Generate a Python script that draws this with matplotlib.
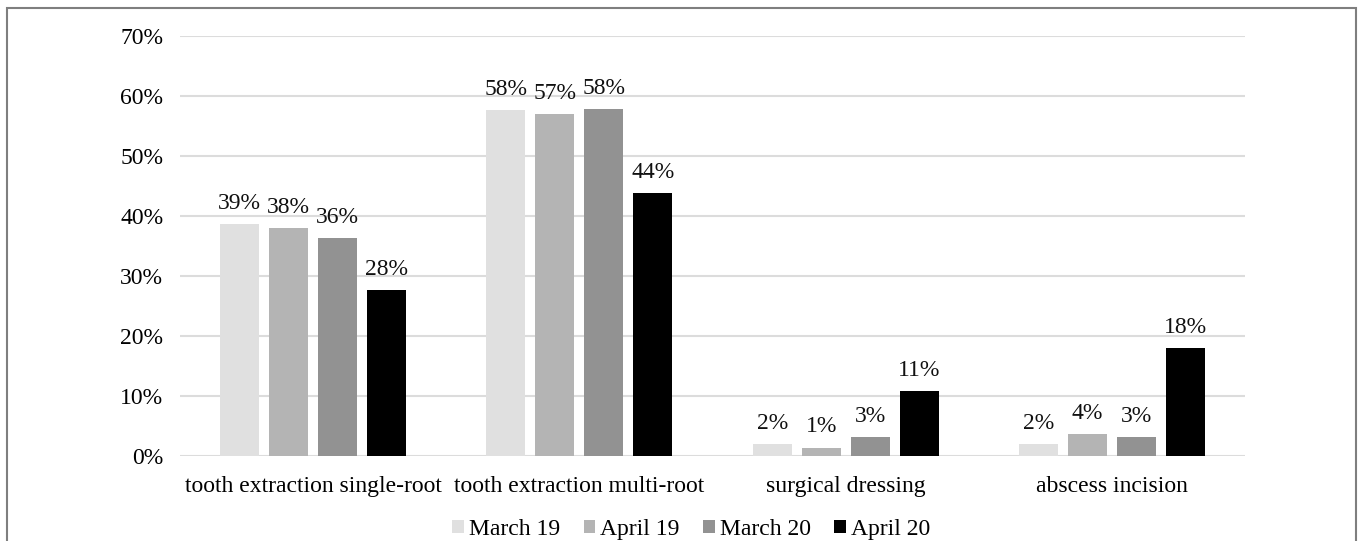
import matplotlib
matplotlib.use("Agg")
import matplotlib.pyplot as plt
import numpy as np
from matplotlib.patches import Rectangle

categories = ["tooth extraction single-root", "tooth extraction multi-root",
              "surgical dressing", "abscess incision"]
series = ["March 19", "April 19", "March 20", "April 20"]
march19 = [38.7, 57.7, 2.0, 2.0]
april19 = [38.0, 57.0, 1.4, 3.7]
march20 = [36.3, 57.8, 3.2, 3.2]
april20 = [27.7, 43.8, 10.8, 18.0]
colors = ["#e0e0e0", "#b4b4b4", "#929292", "#000000"]
yticks = [0, 10, 20, 30, 40, 50, 60, 70]

plt.rcParams['font.family'] = ['Liberation Serif', 'DejaVu Serif']
FS = 17

fig = plt.figure(figsize=(13.6, 5.41), dpi=100)
ax = fig.add_axes([180/1360, 1-456/541, (1245-180)/1360, (456-36)/541])

data = [march19, april19, march20, april20]
x = np.arange(len(categories))
bw = 0.146
step = 0.184
for i, (vals, c, name) in enumerate(zip(data, colors, series)):
    pos = x + (i - 1.5) * step
    bars = ax.bar(pos, vals, width=bw, color=c, label=name, zorder=3)
    for b, v in zip(bars, vals):
        ax.text(b.get_x() + b.get_width()/2, v + 1.7, f"{round(v):.0f}%",
                ha="center", va="bottom", fontsize=FS, color="#111111")

ax.set_xlim(-0.5, len(categories) - 0.5)
ax.set_ylim(0, 70)
ax.set_yticks(yticks)
ax.set_yticklabels([f"{t}%" for t in yticks], fontsize=FS)
ax.set_xticks(x)
ax.set_xticklabels(categories, fontsize=FS)
ax.tick_params(axis="both", length=0)
ax.tick_params(axis="y", pad=12)
ax.tick_params(axis="x", pad=14.5)
ax.grid(axis="y", color="#dcdcdc", linewidth=1.5, zorder=0)
for s in ax.spines.values():
    s.set_visible(False)

leg = ax.legend(loc="center", bbox_to_anchor=(0.48, -0.175), ncol=4, frameon=False,
                fontsize=FS, handlelength=0.5, handleheight=0.5, handletextpad=0.2,
                columnspacing=1.0, borderpad=0)

fig.patches.append(Rectangle((7/1360, -0.01), (1356-7)/1360, 1-8/541+0.01,
                             transform=fig.transFigure, fill=False,
                             edgecolor="#7f7f7f", linewidth=1.5))

fig.savefig("out.png", dpi=100)
